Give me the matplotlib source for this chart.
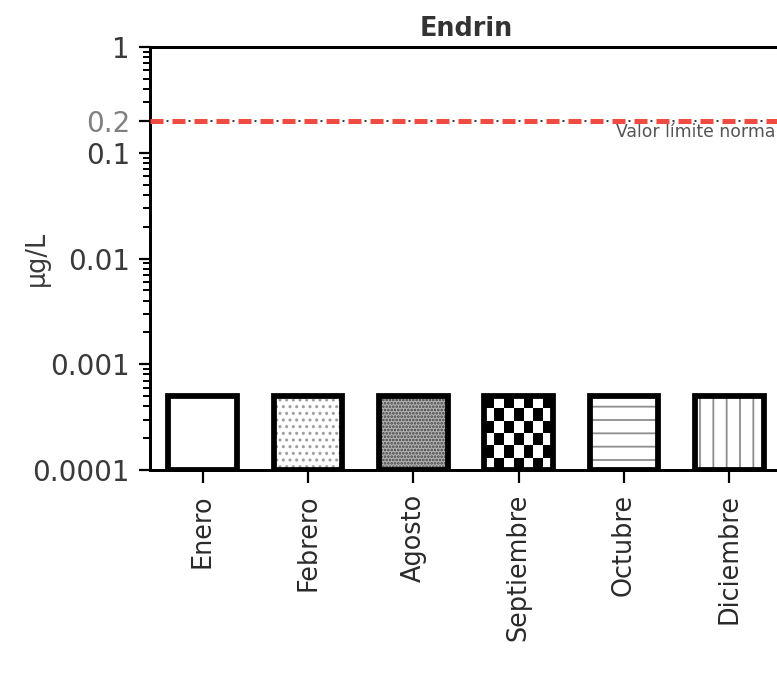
import matplotlib
matplotlib.use("Agg")
import matplotlib.pyplot as plt
import matplotlib.transforms as mtransforms
import numpy as np
from matplotlib.colors import ListedColormap
from matplotlib.ticker import FixedLocator, LogLocator, NullFormatter

# data
months = ["Enero", "Febrero", "Agosto", "Septiembre", "Octubre", "Diciembre"]
endrin = [0.0005, 0.0005, 0.0005, 0.0005, 0.0005, 0.0005]
limit = 0.2
limit_label = "Valor límite norma"
ytick_vals = [0.0001, 0.001, 0.01, 0.1, 0.2, 1]
ytick_labels = ["0.0001", "0.001", "0.01", "0.1", "0.2", "1"]
ymin, ymax = 0.0001, 1

hatches = ["", "..", "....", "", "-", "|"]
faces = ["white", "white", "#b4b4b4", "white", "white", "white"]
hatch_cols = ["white", "#a0a0a0", "#404040", "white", "#8c8c8c", "#8c8c8c"]

plt.rcParams["lines.scale_dashes"] = False
plt.rcParams["hatch.linewidth"] = 1.6

fig = plt.figure(figsize=(777 / 80, 674 / 80), dpi=80)
ax = fig.add_axes([150 / 777, 204 / 674, 632 / 777, 423 / 674])
ax.set_yscale("log")
ax.set_ylim(ymin, ymax)
ax.set_xlim(-0.5, len(months) - 0.5)

x = np.arange(len(months))
heights = np.array(endrin) - ymin
width = 0.655

# fills + hatches
fill = ax.bar(x, heights, width=width, bottom=ymin, color=faces, linewidth=0, zorder=2)
for b, h, c in zip(fill, hatches, hatch_cols):
    b.set_edgecolor(c)
    b.set_hatch(h)

# checkerboard for Septiembre
b = fill[3]
xe = np.linspace(b.get_x(), b.get_x() + b.get_width(), 8)
ye = np.geomspace(b.get_y(), b.get_y() + b.get_height(), 7)
checker = np.add.outer(np.arange(6), np.arange(7)) % 2
ax.pcolormesh(xe, ye, checker, cmap=ListedColormap(["white", "black"]), zorder=2.5)

# outlines
ax.bar(x, heights, width=width, bottom=ymin, fill=False, edgecolor="black",
       linewidth=5.2, zorder=3)

# limit line
ax.axhline(limit, color="#ef4b43", lw=4.5, dashes=(11.7, 8.1), zorder=4)
ax.axhline(limit, color="#222222", lw=1.6, linestyle=(4.95, (1.8, 18.0)), zorder=4)
trans = mtransforms.blended_transform_factory(ax.transAxes, ax.transData)
ax.text(0.99, limit * 0.95, limit_label, transform=trans, ha="right", va="top",
        fontsize=15.5, color="#555555")

# axes styling
for s in ["left", "bottom", "top", "right"]:
    ax.spines[s].set_linewidth(2.7)

ax.yaxis.set_major_locator(FixedLocator(ytick_vals))
ax.set_yticklabels(ytick_labels)
ax.yaxis.set_minor_locator(LogLocator(base=10, subs=np.arange(2, 10)))
ax.yaxis.set_minor_formatter(NullFormatter())
ax.tick_params(axis="y", which="major", length=10, width=2, labelsize=25, pad=8,
               labelcolor="#3a3a3a")
ax.tick_params(axis="y", which="minor", length=6, width=1.8)
ax.get_yticklabels()[4].set_color("#808080")

ax.set_xticks(x)
ax.set_xticklabels(months, rotation=90)
ax.tick_params(axis="x", length=11.7, width=2, labelsize=23, pad=10, labelcolor="#2a2a2a")

ax.set_title("Endrin", fontsize=23, fontweight="bold", pad=10, color="#333333")
ax.set_ylabel("µg/L", fontsize=23, color="#3a3a3a")
ax.yaxis.set_label_coords(-0.158, 0.5)

fig.savefig("out.png", dpi=80)
